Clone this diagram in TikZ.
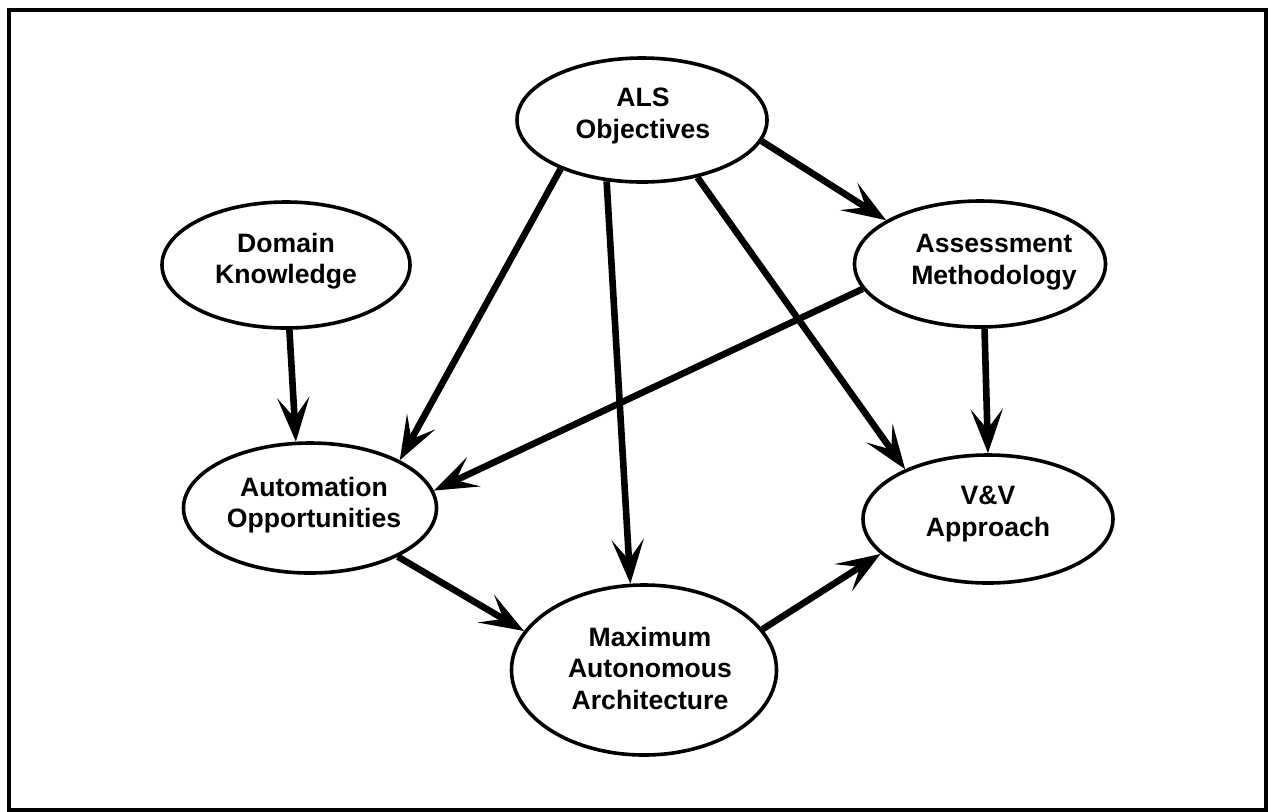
\documentclass[tikz,border=0pt]{standalone}
\usepackage{fontspec}
\setmainfont{Liberation Sans}
\usetikzlibrary{arrows.meta,shapes.geometric}
\begin{document}
\begin{tikzpicture}[x=0.5pt,y=-0.5pt,
  ell/.style={draw, ellipse, line width=1.8pt, inner sep=0pt},
  lbl/.style={align=center, font=\bfseries\fontsize{13.3}{15.75}\selectfont, inner sep=0pt},
  arr/.style={line width=3.3pt, -{Stealth[length=22pt,width=16pt,inset=10pt]}},
  frame/.style={draw, line width=1.75pt}
]
\useasboundingbox (0,0) rectangle (1268,811);
\draw[frame] (9,10) rectangle (1266,810);

% ellipses
\node[ell, minimum width=125pt, minimum height=62pt] (als) at (642,120) {};
\node[lbl] (alst) at (643,116) {ALS\\Objectives};

\node[ell, minimum width=124pt, minimum height=63pt] (dk) at (286,265) {};
\node[lbl] (dkt) at (286,261) {Domain\\Knowledge};

\node[ell, minimum width=125.5pt, minimum height=63pt] (am) at (980,264) {};
\node[lbl] (amt) at (994,262) {Assessment\\Methodology};

\node[ell, minimum width=126.5pt, minimum height=65pt] (auto) at (310,508) {};
\node[lbl] (autot) at (314,505) {Automation\\Opportunities};

\node[ell, minimum width=125pt, minimum height=64pt] (vv) at (988,519) {};
\node[lbl] (vvt) at (988,514) {V\&V\\Approach};

\node[ell, minimum width=132.5pt, minimum height=85pt] (max) at (644,670) {};
\node[lbl] (maxt) at (650,668) {Maximum\\Autonomous\\Architecture};

% connectors
\draw[arr] (als.211.8) -- (auto.28.1);
\draw[arr] (als.240.6) -- (max.99);
\draw[arr] (als.314) -- (vv.149);
\draw[arr] (als.350.6) -- (am.155.7);
\draw[arr] (dk.273.6) -- (auto.102);
\draw[arr] (am.192.5) -- (auto.8.4);
\draw[arr] (am.274.3) -- (vv.90);
\draw[arr] (auto.-29.4) -- (max.162.6);
\draw[arr] (max.19) -- (vv.198.8);
\end{tikzpicture}
\end{document}
